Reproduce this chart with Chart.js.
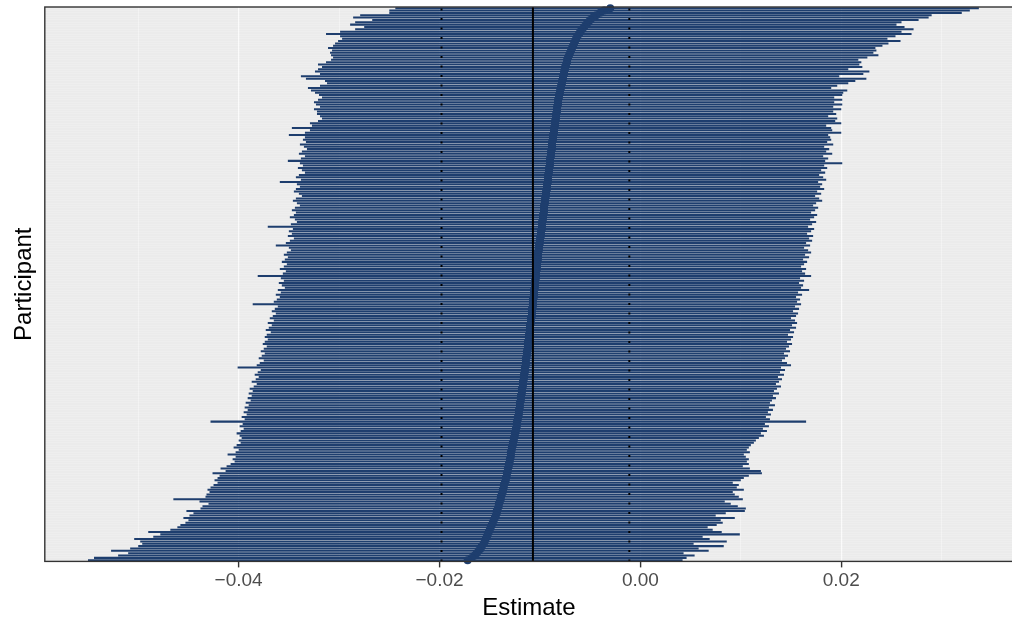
<!DOCTYPE html>
<html>
<head>
<meta charset="utf-8">
<script src="https://cdn.jsdelivr.net/npm/chart.js@4.4.0/dist/chart.umd.min.js"></script>
<style>
	html, body { margin: 0; padding: 0; background: #ffffff; overflow: hidden; width: 1012px; height: 620px; }
	#chart { display: block; }
</style>
</head>
<body>
<canvas id="chart" width="1017" height="620"></canvas>
<script>
// Participant estimates, sorted from highest (top row) to lowest (bottom row)
const estimate = [
	-0.0030, -0.0036, -0.0040, -0.0044, -0.0047, -0.0050, -0.0052, -0.0054, -0.0056, -0.0058,
	-0.0060, -0.0061, -0.0063, -0.0064, -0.0065, -0.0066, -0.0067, -0.0068, -0.0069, -0.0070,
	-0.0071, -0.0072, -0.0073, -0.0073, -0.0074, -0.0075, -0.0075, -0.0076, -0.0076, -0.0077,
	-0.0077, -0.0078, -0.0078, -0.0079, -0.0079, -0.0080, -0.0080, -0.0081, -0.0081, -0.0082,
	-0.0082, -0.0082, -0.0083, -0.0083, -0.0083, -0.0084, -0.0084, -0.0084, -0.0085, -0.0085,
	-0.0085, -0.0086, -0.0086, -0.0086, -0.0087, -0.0087, -0.0087, -0.0088, -0.0088, -0.0088,
	-0.0088, -0.0089, -0.0089, -0.0089, -0.0090, -0.0090, -0.0090, -0.0090, -0.0091, -0.0091,
	-0.0091, -0.0092, -0.0092, -0.0092, -0.0092, -0.0093, -0.0093, -0.0093, -0.0094, -0.0094,
	-0.0094, -0.0095, -0.0095, -0.0095, -0.0096, -0.0096, -0.0096, -0.0096, -0.0097, -0.0097,
	-0.0097, -0.0098, -0.0098, -0.0098, -0.0098, -0.0099, -0.0099, -0.0099, -0.0100, -0.0100,
	-0.0100, -0.0101, -0.0101, -0.0101, -0.0102, -0.0102, -0.0102, -0.0102, -0.0103, -0.0103,
	-0.0103, -0.0103, -0.0104, -0.0104, -0.0104, -0.0104, -0.0105, -0.0105, -0.0105, -0.0105,
	-0.0106, -0.0106, -0.0106, -0.0106, -0.0107, -0.0107, -0.0107, -0.0107, -0.0108, -0.0108,
	-0.0108, -0.0108, -0.0109, -0.0109, -0.0109, -0.0110, -0.0110, -0.0110, -0.0110, -0.0111,
	-0.0111, -0.0111, -0.0112, -0.0112, -0.0112, -0.0112, -0.0113, -0.0113, -0.0113, -0.0114,
	-0.0114, -0.0114, -0.0114, -0.0115, -0.0115, -0.0115, -0.0116, -0.0116, -0.0116, -0.0117,
	-0.0117, -0.0117, -0.0118, -0.0118, -0.0118, -0.0119, -0.0119, -0.0119, -0.0120, -0.0120,
	-0.0120, -0.0121, -0.0121, -0.0121, -0.0122, -0.0122, -0.0123, -0.0123, -0.0123, -0.0124,
	-0.0124, -0.0125, -0.0125, -0.0126, -0.0126, -0.0127, -0.0127, -0.0128, -0.0128, -0.0129,
	-0.0129, -0.0129, -0.0130, -0.0130, -0.0131, -0.0131, -0.0132, -0.0132, -0.0133, -0.0133,
	-0.0134, -0.0134, -0.0135, -0.0136, -0.0136, -0.0137, -0.0137, -0.0138, -0.0139, -0.0139,
	-0.0140, -0.0141, -0.0141, -0.0142, -0.0143, -0.0143, -0.0144, -0.0145, -0.0146, -0.0147,
	-0.0148, -0.0149, -0.0150, -0.0151, -0.0152, -0.0153, -0.0154, -0.0155, -0.0156, -0.0158,
	-0.0159, -0.0161, -0.0163, -0.0165, -0.0168, -0.0172
];

// Lower end of each participant's interval
const lower = [
	-0.0244, -0.0250, -0.0250, -0.0279, -0.0286, -0.0267, -0.0284, -0.0289, -0.0275, -0.0284,
	-0.0299, -0.0313, -0.0299, -0.0297, -0.0301, -0.0304, -0.0306, -0.0311, -0.0307, -0.0309,
	-0.0308, -0.0306, -0.0308, -0.0313, -0.0321, -0.0317, -0.0321, -0.0324, -0.0319, -0.0338,
	-0.0333, -0.0314, -0.0312, -0.0319, -0.0331, -0.0328, -0.0324, -0.0320, -0.0317, -0.0321,
	-0.0325, -0.0323, -0.0319, -0.0325, -0.0322, -0.0322, -0.0319, -0.0317, -0.0321, -0.0329,
	-0.0327, -0.0347, -0.0329, -0.0334, -0.0350, -0.0334, -0.0336, -0.0333, -0.0339, -0.0335,
	-0.0332, -0.0337, -0.0340, -0.0334, -0.0338, -0.0351, -0.0339, -0.0336, -0.0341, -0.0337,
	-0.0334, -0.0340, -0.0343, -0.0338, -0.0359, -0.0342, -0.0339, -0.0343, -0.0345, -0.0340,
	-0.0337, -0.0343, -0.0346, -0.0342, -0.0339, -0.0344, -0.0347, -0.0343, -0.0345, -0.0349,
	-0.0344, -0.0342, -0.0348, -0.0371, -0.0346, -0.0350, -0.0347, -0.0351, -0.0345, -0.0349,
	-0.0353, -0.0363, -0.0350, -0.0348, -0.0352, -0.0355, -0.0351, -0.0354, -0.0357, -0.0352,
	-0.0355, -0.0359, -0.0353, -0.0356, -0.0381, -0.0358, -0.0355, -0.0360, -0.0357, -0.0354,
	-0.0361, -0.0358, -0.0363, -0.0359, -0.0362, -0.0365, -0.0386, -0.0361, -0.0364, -0.0367,
	-0.0363, -0.0366, -0.0369, -0.0365, -0.0371, -0.0367, -0.0370, -0.0373, -0.0368, -0.0372,
	-0.0374, -0.0371, -0.0374, -0.0376, -0.0372, -0.0375, -0.0378, -0.0374, -0.0377, -0.0380,
	-0.0375, -0.0379, -0.0382, -0.0401, -0.0378, -0.0381, -0.0384, -0.0380, -0.0383, -0.0387,
	-0.0382, -0.0385, -0.0389, -0.0386, -0.0390, -0.0387, -0.0391, -0.0388, -0.0393, -0.0390,
	-0.0394, -0.0391, -0.0395, -0.0392, -0.0397, -0.0394, -0.0428, -0.0396, -0.0399, -0.0395,
	-0.0398, -0.0402, -0.0399, -0.0397, -0.0400, -0.0398, -0.0402, -0.0405, -0.0400, -0.0403,
	-0.0411, -0.0403, -0.0406, -0.0404, -0.0408, -0.0412, -0.0418, -0.0413, -0.0426, -0.0419,
	-0.0421, -0.0424, -0.0421, -0.0425, -0.0428, -0.0431, -0.0429, -0.0432, -0.0433, -0.0465,
	-0.0439, -0.0430, -0.0436, -0.0438, -0.0452, -0.0445, -0.0449, -0.0455, -0.0450, -0.0453,
	-0.0458, -0.0461, -0.0468, -0.0490, -0.0478, -0.0485, -0.0504, -0.0498, -0.0496, -0.0500,
	-0.0508, -0.0527, -0.0510, -0.0520, -0.0544, -0.0550
];

// Upper end of each participant's interval
const upper = [
	0.0337, 0.0328, 0.0320, 0.0290, 0.0287, 0.0277, 0.0260, 0.0255, 0.0263, 0.0272,
	0.0260, 0.0270, 0.0254, 0.0246, 0.0259, 0.0247, 0.0241, 0.0234, 0.0235, 0.0232,
	0.0237, 0.0226, 0.0217, 0.0220, 0.0218, 0.0221, 0.0207, 0.0228, 0.0222, 0.0198,
	0.0225, 0.0214, 0.0207, 0.0196, 0.0190, 0.0206, 0.0202, 0.0201, 0.0193, 0.0201,
	0.0193, 0.0201, 0.0192, 0.0200, 0.0192, 0.0195, 0.0187, 0.0196, 0.0194, 0.0200,
	0.0185, 0.0190, 0.0191, 0.0200, 0.0187, 0.0189, 0.0190, 0.0186, 0.0192, 0.0183,
	0.0188, 0.0185, 0.0191, 0.0182, 0.0187, 0.0184, 0.0201, 0.0183, 0.0186, 0.0180,
	0.0184, 0.0178, 0.0182, 0.0185, 0.0177, 0.0181, 0.0179, 0.0183, 0.0176, 0.0180,
	0.0174, 0.0178, 0.0181, 0.0175, 0.0172, 0.0177, 0.0174, 0.0170, 0.0176, 0.0173,
	0.0169, 0.0175, 0.0171, 0.0167, 0.0173, 0.0170, 0.0166, 0.0172, 0.0168, 0.0171,
	0.0165, 0.0169, 0.0163, 0.0167, 0.0170, 0.0164, 0.0168, 0.0162, 0.0166, 0.0163,
	0.0160, 0.0165, 0.0161, 0.0164, 0.0170, 0.0159, 0.0163, 0.0158, 0.0162, 0.0160,
	0.0168, 0.0157, 0.0161, 0.0155, 0.0159, 0.0156, 0.0160, 0.0154, 0.0158, 0.0152,
	0.0157, 0.0155, 0.0150, 0.0154, 0.0156, 0.0151, 0.0155, 0.0149, 0.0153, 0.0147,
	0.0152, 0.0150, 0.0146, 0.0151, 0.0148, 0.0145, 0.0149, 0.0143, 0.0147, 0.0144,
	0.0141, 0.0146, 0.0150, 0.0140, 0.0144, 0.0139, 0.0143, 0.0137, 0.0141, 0.0138,
	0.0135, 0.0140, 0.0136, 0.0133, 0.0138, 0.0132, 0.0135, 0.0131, 0.0129, 0.0134,
	0.0128, 0.0132, 0.0127, 0.0130, 0.0125, 0.0129, 0.0165, 0.0124, 0.0128, 0.0122,
	0.0126, 0.0120, 0.0123, 0.0118, 0.0115, 0.0113, 0.0110, 0.0108, 0.0106, 0.0109,
	0.0103, 0.0105, 0.0108, 0.0106, 0.0108, 0.0102, 0.0109, 0.0120, 0.0121, 0.0108,
	0.0103, 0.0100, 0.0092, 0.0098, 0.0096, 0.0103, 0.0092, 0.0094, 0.0098, 0.0102,
	0.0084, 0.0090, 0.0097, 0.0105, 0.0104, 0.0085, 0.0075, 0.0094, 0.0080, 0.0082,
	0.0076, 0.0067, 0.0072, 0.0081, 0.0099, 0.0062, 0.0069, 0.0086, 0.0053, 0.0083,
	0.0058, 0.0068, 0.0043, 0.0054, 0.0046, 0.0042
];

// Reference lines: overall estimate (solid) and its interval (dotted)
const overallEstimate = -0.0107;
const overallLower = -0.0198;
const overallUpper = -0.0011;

const xMin = -0.0593;
const xMax = 0.0371;

const participants = estimate.map((e, i) => "P" + (i + 1));
const intervals = lower.map((lo, i) => [lo, upper[i]]);

const navy = "#1E3E6E";

function isMajor(v) {
	return Math.abs(Math.round(v * 100)) % 2 === 0;
}

function formatTick(v) {
	if (!isMajor(v)) return "";
	if (Math.abs(v) < 1e-9) return "0.00";
	return (v < 0 ? "\u2212" : "") + Math.abs(v).toFixed(2);
}

// Grey panel, reference lines and panel border
const panelPlugin = {
	id: "panel",
	beforeDraw(chart) {
		const a = chart.chartArea;
		const ctx = chart.ctx;
		ctx.save();
		ctx.fillStyle = "#EBEBEB";
		ctx.fillRect(a.left, a.top, a.right - a.left, a.bottom - a.top);
		ctx.restore();
	},
	afterDatasetsDraw(chart) {
		const a = chart.chartArea;
		const ctx = chart.ctx;
		const xs = chart.scales.x;
		ctx.save();
		ctx.beginPath();
		ctx.rect(a.left, a.top, a.right - a.left, a.bottom - a.top);
		ctx.clip();
		ctx.strokeStyle = "#000000";
		ctx.lineWidth = 2;

		ctx.setLineDash([2, 7.5]);
		[overallLower, overallUpper].forEach((v) => {
			const px = xs.getPixelForValue(v);
			ctx.beginPath();
			ctx.moveTo(px, a.bottom);
			ctx.lineTo(px, a.top);
			ctx.stroke();
		});

		ctx.setLineDash([]);
		const mx = xs.getPixelForValue(overallEstimate);
		ctx.beginPath();
		ctx.moveTo(mx, a.top);
		ctx.lineTo(mx, a.bottom);
		ctx.stroke();
		ctx.restore();
	},
	afterDraw(chart) {
		const a = chart.chartArea;
		const ctx = chart.ctx;
		ctx.save();
		ctx.strokeStyle = "#333333";
		ctx.lineWidth = 1.4;
		ctx.strokeRect(a.left, a.top, a.right - a.left, a.bottom - a.top);
		ctx.restore();
	},
};

new Chart("chart", {
	type: "bar",
	data: {
		labels: participants,
		datasets: [
			{
				type: "line",
				label: "Estimate",
				indexAxis: "y",
				data: estimate,
				showLine: false,
				pointRadius: 4,
				pointBorderWidth: 0,
				pointBackgroundColor: navy,
				order: 0,
			},
			{
				type: "bar",
				label: "Interval",
				indexAxis: "y",
				data: intervals,
				backgroundColor: navy,
				borderWidth: 0,
				barPercentage: 0.86,
				categoryPercentage: 1,
				order: 1,
			},
		],
	},
	options: {
		indexAxis: "y",
		responsive: false,
		animation: false,
		devicePixelRatio: 1,
		layout: {
			padding: { left: 10, right: 0, top: 7, bottom: -3 },
		},
		plugins: {
			legend: { display: false },
			tooltip: { enabled: false },
		},
		scales: {
			x: {
				type: "linear",
				min: xMin,
				max: xMax,
				border: { display: false },
				grid: {
					color: (c) => (c.tick && isMajor(c.tick.value) ? "rgba(255,255,255,0.75)" : "rgba(255,255,255,0.5)"),
					lineWidth: (c) => (c.tick && isMajor(c.tick.value) ? 1.2 : 0.7),
					tickColor: (c) => (c.tick && isMajor(c.tick.value) ? "#333333" : "rgba(0,0,0,0)"),
					tickLength: 6,
					tickWidth: 1.4,
				},
				ticks: {
					stepSize: 0.01,
					includeBounds: false,
					autoSkip: false,
					maxRotation: 0,
					padding: 2,
					color: "#4D4D4D",
					font: { family: "'Liberation Sans', Arial, sans-serif", size: 19 },
					callback: (v) => formatTick(v),
				},
				title: {
					display: true,
					text: "Estimate",
					color: "#000000",
					font: { family: "'Liberation Sans', Arial, sans-serif", size: 24 },
					padding: { top: 0, bottom: 0 },
				},
			},
			y: {
				type: "category",
				offset: true,
				border: { display: false },
				grid: {
					offset: false,
					color: "rgba(255,255,255,0.35)",
					lineWidth: 0.5,
					drawTicks: false,
				},
				ticks: { display: false },
				title: {
					display: true,
					text: "Participant",
					color: "#000000",
					font: { family: "'Liberation Sans', Arial, sans-serif", size: 24 },
					padding: { top: 0, bottom: 6 },
				},
			},
		},
	},
	plugins: [panelPlugin],
});
</script>
</body>
</html>
